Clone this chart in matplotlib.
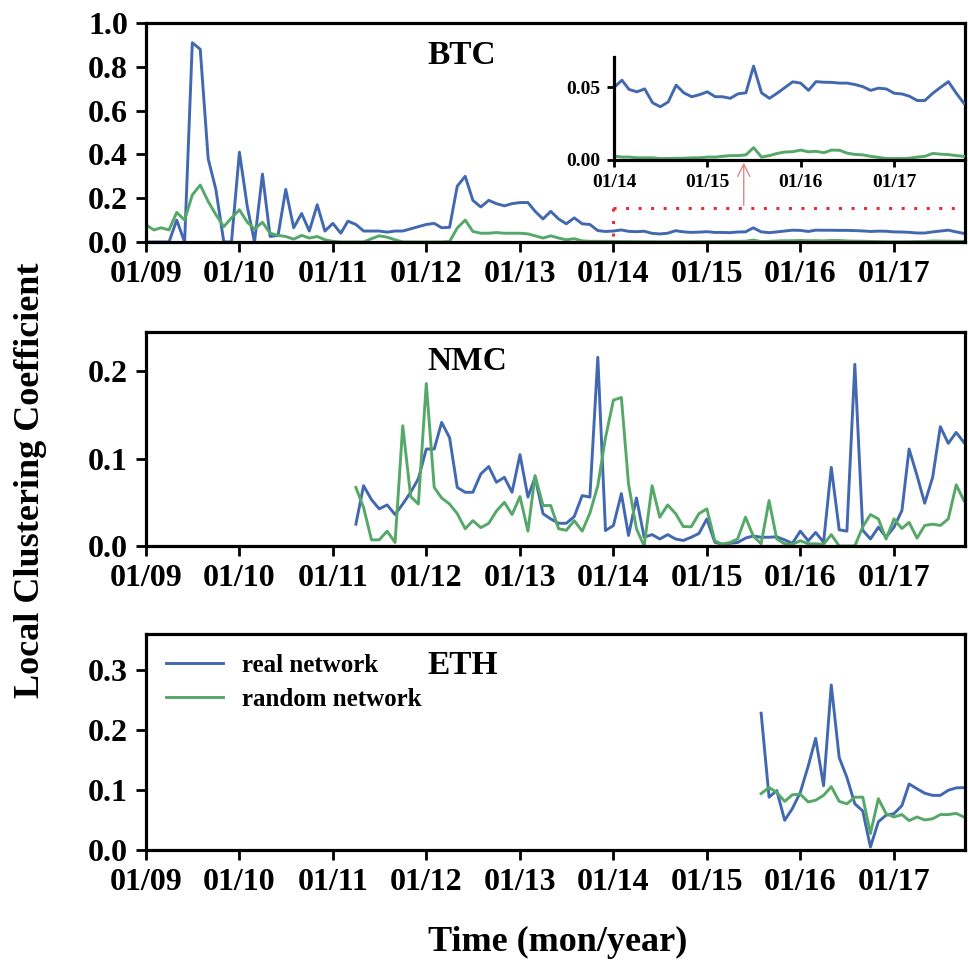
import matplotlib
matplotlib.use('Agg')
import matplotlib.pyplot as plt
import matplotlib.dates as mdates
import pandas as pd

plt.rcParams['font.family'] = ['Liberation Serif', 'DejaVu Serif']
plt.rcParams['font.weight'] = 'bold'

blue = '#4268B0'
green = '#55A868'

# monthly values, BTC from 01/2009, NMC from 04/2011, ETH from 08/2015
btc_real = [0, 0, 0, 0, 0.10, 0, 0.91, 0.88, 0.38, 0.24, 0, 0, 0.41, 0.16, 0, 0.31,
            0.025, 0.03, 0.24, 0.065, 0.13, 0.05, 0.17, 0.05, 0.085, 0.04, 0.095, 0.08,
            0.05, 0.05, 0.05, 0.045, 0.05, 0.05, 0.06, 0.07, 0.08, 0.085, 0.065, 0.067,
            0.255, 0.30, 0.19, 0.16, 0.19, 0.175, 0.165, 0.175, 0.18, 0.18, 0.14, 0.105,
            0.14, 0.105, 0.083, 0.11, 0.083, 0.08, 0.052, 0.048,
            0.050, 0.055, 0.0486, 0.047, 0.049, 0.0394, 0.0367, 0.040, 0.0516, 0.0463,
            0.0436, 0.045, 0.047, 0.0436, 0.0436, 0.0425, 0.0456, 0.0463, 0.0647, 0.0463,
            0.0425, 0.046, 0.050, 0.0539, 0.053, 0.048, 0.054, 0.0536, 0.0535, 0.053,
            0.053, 0.052, 0.0505, 0.048, 0.0495, 0.049, 0.046, 0.0455, 0.044, 0.041,
            0.041, 0.046, 0.050, 0.054, 0.046, 0.039]
btc_rand = [0.078, 0.055, 0.065, 0.055, 0.135, 0.10, 0.215, 0.26, 0.185, 0.125, 0.07,
            0.11, 0.147, 0.09, 0.06, 0.09, 0.04, 0.03, 0.025, 0.013, 0.03, 0.018, 0.025,
            0.01, 0.003, 0, 0, 0, 0, 0.015, 0.028, 0.022, 0.01, 0, 0, 0, 0, 0, 0, 0.002,
            0.064, 0.10, 0.048, 0.04, 0.04, 0.043, 0.04, 0.04, 0.04, 0.037, 0.028, 0.018,
            0.028, 0.018, 0.01, 0.015, 0.005, 0.003, 0.003, 0.003,
            0.0027, 0.002, 0.002, 0.0015, 0.0015, 0.0015, 0.001, 0.001, 0.0012, 0.0012,
            0.0015, 0.0015, 0.002, 0.002, 0.0025, 0.003, 0.003, 0.0035, 0.0085, 0.002,
            0.003, 0.0045, 0.0055, 0.0057, 0.0068, 0.0056, 0.006, 0.005, 0.0068, 0.0067,
            0.0047, 0.0038, 0.0035, 0.0025, 0.0018, 0.001, 0.001, 0.001, 0.0012, 0.002,
            0.0025, 0.0045, 0.004, 0.0037, 0.003, 0.0025]
nmc_real = [0.025, 0.069, 0.053, 0.0425, 0.047, 0.036, 0.048, 0.0615, 0.077, 0.111,
            0.111, 0.1415, 0.124, 0.067, 0.0615, 0.0615, 0.0825, 0.091, 0.073, 0.0786,
            0.0615, 0.1046, 0.056, 0.0786, 0.037, 0.031, 0.026, 0.026, 0.0337, 0.0577,
            0.056, 0.216, 0.0177, 0.0234, 0.06, 0.012, 0.055, 0.010, 0.013, 0.008, 0.013,
            0.008, 0.0063, 0.01, 0.0143, 0.031, 0.0043, 0.002, 0.003, 0.004, 0.009,
            0.0115, 0.01, 0.01, 0.0105, 0.007, 0.003, 0.017, 0.006, 0.0155, 0.0043, 0.09,
            0.0185, 0.017, 0.208, 0.018, 0.008, 0.0215, 0.01, 0.0215, 0.0406, 0.111,
            0.0806, 0.049, 0.0786, 0.1366, 0.1175, 0.13, 0.1186]
nmc_rand = [0.067, 0.044, 0.007, 0.007, 0.017, 0.004, 0.1377, 0.0566, 0.048, 0.186,
            0.067, 0.055, 0.048, 0.037, 0.0197, 0.029, 0.021, 0.026, 0.04, 0.05, 0.036,
            0.0566, 0.017, 0.0806, 0.0463, 0.0463, 0.0197, 0.018, 0.029, 0.017, 0.0375,
            0.069, 0.124, 0.167, 0.17, 0.071, 0.0197, 0.0, 0.069, 0.033, 0.047, 0.037,
            0.0223, 0.022, 0.037, 0.0425, 0.006, 0.002, 0.004, 0.008, 0.033, 0.0115,
            0.0025, 0.052, 0.008, 0.0025, 0.002, 0.006, 0.0025, 0.0025, 0.002, 0.013,
            0.0, 0.0, 0.0, 0.022, 0.036, 0.031, 0.008, 0.031, 0.02, 0.027, 0.009, 0.0235,
            0.025, 0.0235, 0.031, 0.07, 0.052]
eth_real = [0.228, 0.088, 0.099, 0.0495, 0.069, 0.096, 0.14, 0.186, 0.107, 0.275, 0.154,
            0.121, 0.077, 0.065, 0.005, 0.047, 0.058, 0.0605, 0.074, 0.11, 0.102, 0.0946,
            0.091, 0.091, 0.0995, 0.1035, 0.104]
eth_rand = [0.094, 0.104, 0.096, 0.081, 0.092, 0.093, 0.080, 0.083, 0.091, 0.1056, 0.081,
            0.077, 0.088, 0.088, 0.0275, 0.0855, 0.0605, 0.055, 0.059, 0.049, 0.055, 0.050,
            0.052, 0.059, 0.059, 0.061, 0.055]

btc_t = pd.date_range('2009-01-01', periods=len(btc_real), freq='MS')
nmc_t = pd.date_range('2011-04-01', periods=len(nmc_real), freq='MS')
eth_t = pd.date_range('2015-08-01', periods=len(eth_real), freq='MS')

x0 = pd.Timestamp('2009-01-01')
x1 = pd.Timestamp('2017-10-05')

fig = plt.figure(figsize=(9.68, 9.66), dpi=100)
ax1 = fig.add_axes([0.1508, 0.7495, 0.846, 0.2267])
ax2 = fig.add_axes([0.1508, 0.4348, 0.846, 0.2215])
ax3 = fig.add_axes([0.1508, 0.1201, 0.846, 0.2236])


def style(ax, ylim, yticks, fmt, size=23, tl=7):
    ax.set_xlim(x0, x1)
    ax.set_ylim(*ylim)
    ax.set_yticks(yticks)
    ax.set_yticklabels([fmt % v for v in yticks])
    ax.xaxis.set_major_locator(mdates.YearLocator())
    ax.xaxis.set_major_formatter(mdates.DateFormatter('%m/%y'))
    ax.tick_params(direction='out', length=tl, width=2, labelsize=size, pad=6)
    for s in ax.spines.values():
        s.set_linewidth(2.3)


lw = 2.1
ax1.plot(btc_t, btc_real, color=blue, lw=lw)
ax1.plot(btc_t, btc_rand, color=green, lw=lw)
style(ax1, (0, 1.0), [0, 0.2, 0.4, 0.6, 0.8, 1.0], '%.1f')
ax1.text(0.344, 0.85, 'BTC', transform=ax1.transAxes, fontsize=24, va='center')

ax2.plot(nmc_t, nmc_real, color=blue, lw=lw)
ax2.plot(nmc_t, nmc_rand, color=green, lw=lw)
style(ax2, (0, 0.245), [0, 0.1, 0.2], '%.1f')
ax2.text(0.344, 0.86, 'NMC', transform=ax2.transAxes, fontsize=24, va='center')

ax3.plot(eth_t, eth_real, color=blue, lw=lw, label='real network')
ax3.plot(eth_t, eth_rand, color=green, lw=lw, label='random network')
style(ax3, (0, 0.36), [0, 0.1, 0.2, 0.3], '%.1f')
ax3.text(0.344, 0.856, 'ETH', transform=ax3.transAxes, fontsize=24, va='center')
ax3.legend(loc='upper left', frameon=False, fontsize=18, handlelength=2.3,
           handletextpad=0.75, labelspacing=0.45, borderaxespad=0.4,
           bbox_to_anchor=(0.0, 1.0))

# zoom box and arrow in the BTC panel
zs = pd.Timestamp('2014-01-01')
ax1.plot([zs, x1], [0.155, 0.155], color='#e0303a', lw=2.2, ls=(0, (1, 3.1)))
ax1.plot([zs, zs], [0.155, 0.0], color='#e0303a', lw=2.2, ls=(0, (1, 3.1)))
ax1.annotate('', xy=(pd.Timestamp('2015-05-25'), 0.375),
             xytext=(pd.Timestamp('2015-05-25'), 0.155),
             arrowprops=dict(arrowstyle='->', color='#d98a8a', lw=1.0,
                             mutation_scale=22))

# inset
axi = fig.add_axes([0.6343, 0.8344, 0.3626, 0.1066])
axi.patch.set_alpha(0)
axi.plot(btc_t[60:], btc_real[60:], color=blue, lw=lw)
axi.plot(btc_t[60:], btc_rand[60:], color=green, lw=lw)
axi.set_xlim(zs, x1)
axi.set_ylim(0, 0.071)
axi.set_yticks([0, 0.05])
axi.set_yticklabels(['0.00', '0.05'])
axi.xaxis.set_major_locator(mdates.YearLocator())
axi.xaxis.set_major_formatter(mdates.DateFormatter('%m/%y'))
axi.tick_params(direction='out', length=5, width=2, labelsize=14, pad=5)
axi.spines['top'].set_visible(False)
axi.spines['right'].set_visible(False)
for s in ('left', 'bottom'):
    axi.spines[s].set_linewidth(2.3)

fig.text(0.031, 1 - 480 / 966, 'Local Clustering Coefficient', rotation=90,
         fontsize=26, ha='center', va='center')
fig.text(0.576, 1 - 942 / 966, 'Time (mon/year)', fontsize=26, ha='center',
         va='center')

fig.savefig('out.png', dpi=100)
